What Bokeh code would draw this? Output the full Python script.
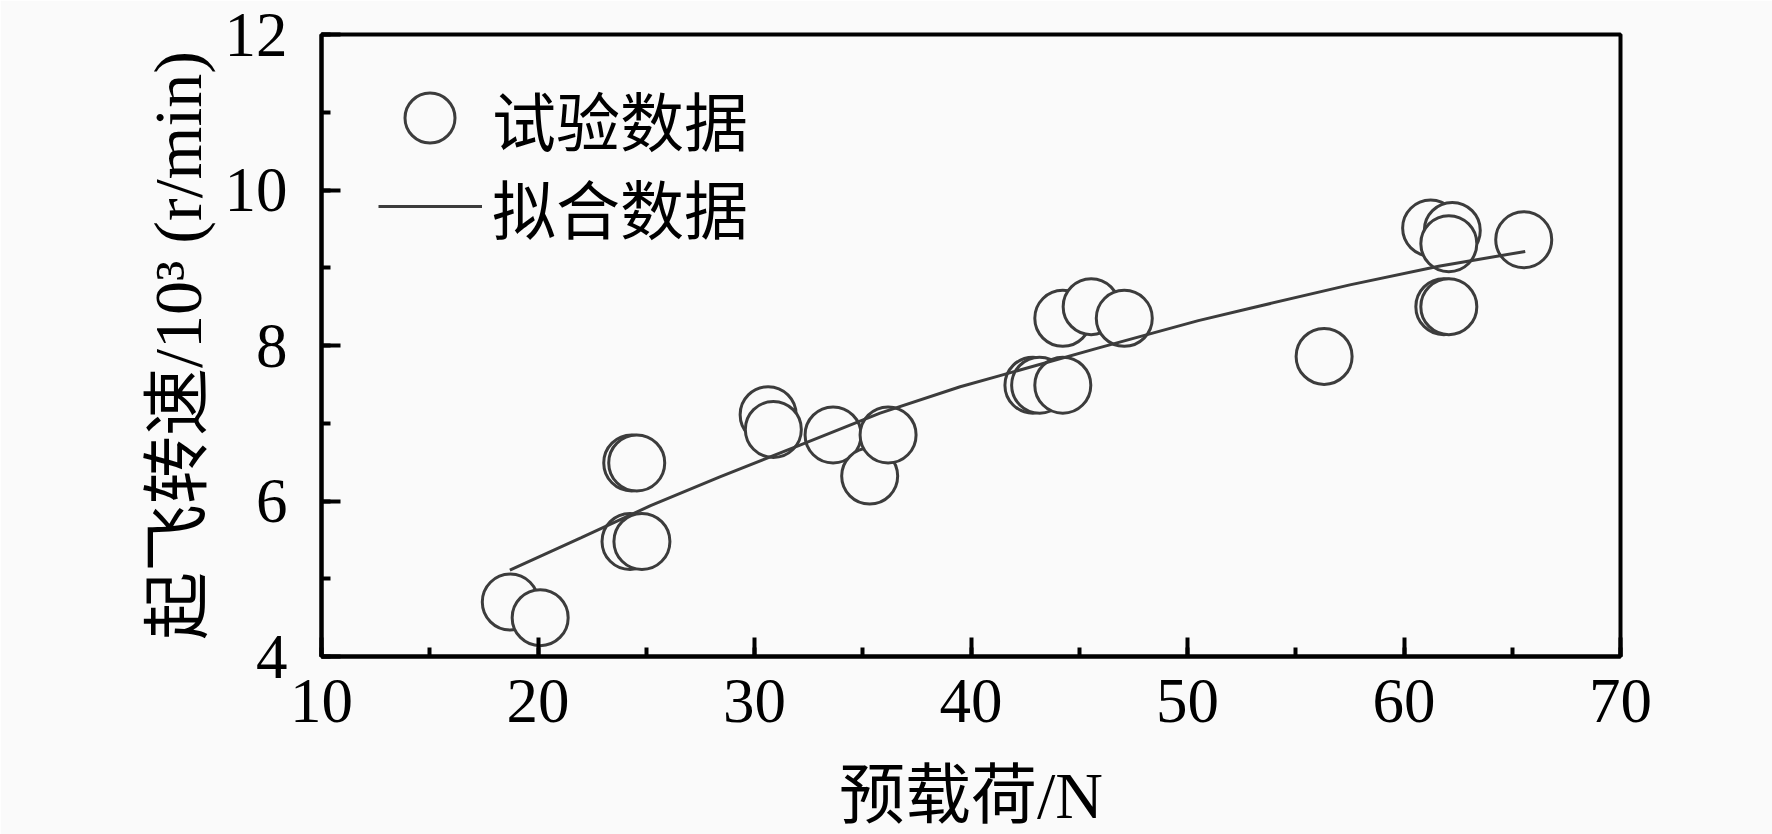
from bokeh.plotting import figure
from bokeh.models import SingleIntervalTicker, Legend, LegendItem, Range1d
from bokeh.embed import file_html
from bokeh.resources import INLINE

# ---- data ----
load_n = [18.72, 20.10, 24.33, 24.56, 24.25, 24.80, 30.63, 30.87, 33.63, 35.32,
          36.17, 42.86, 43.17, 44.24, 44.24, 45.55, 47.08, 56.31, 61.23, 62.23,
          62.07, 61.84, 62.07, 65.53]
speed_k = [4.70, 4.50, 6.49, 6.49, 5.48, 5.48, 7.11, 6.92, 6.85, 6.32,
           6.85, 7.49, 7.49, 7.49, 8.35, 8.50, 8.35, 7.86, 9.51, 9.48,
           9.31, 8.50, 8.50, 9.36]

fit_x = [18.7, 22.0, 25.2, 28.4, 32.1, 35.8, 39.5, 41.3, 45.9, 50.5, 52.9, 57.5, 61.6, 65.6]
fit_y = [5.11, 5.53, 5.94, 6.31, 6.72, 7.13, 7.47, 7.61, 7.97, 8.32, 8.48, 8.78, 9.02, 9.21]

x_label = "预载荷/N"
y_label = "起飞转速/10³ (r/min)"
legend_labels = ["试验数据", "拟合数据"]

BG = "#fafafa"
INK = "#3c3c3c"
SERIF = "'Liberation Serif', 'Noto Sans CJK SC'"

p = figure(width=1772, height=834, output_backend="svg", toolbar_location=None,
           x_range=Range1d(10, 70), y_range=Range1d(4, 12),
           min_border_left=321, min_border_right=152,
           min_border_top=34, min_border_bottom=177)
p.background_fill_color = BG
p.border_fill_color = BG
p.grid.visible = False
p.outline_line_color = "black"
p.outline_line_width = 4

pts = p.scatter(load_n, speed_k, size=56, marker="circle",
                line_color=INK, line_width=3, fill_color=BG, fill_alpha=1.0)
fit = p.line(fit_x, fit_y, line_color=INK, line_width=3)

p.xaxis.ticker = SingleIntervalTicker(interval=10, num_minor_ticks=2)
p.yaxis.ticker = SingleIntervalTicker(interval=2, num_minor_ticks=2)

for ax in (p.xaxis[0], p.yaxis[0]):
    ax.axis_line_width = 4
    ax.axis_line_color = "black"
    ax.major_tick_in = 19
    ax.major_tick_out = 0
    ax.minor_tick_in = 9
    ax.minor_tick_out = 0
    ax.major_tick_line_width = 4
    ax.minor_tick_line_width = 4
    ax.major_tick_line_color = "black"
    ax.minor_tick_line_color = "black"
    ax.major_label_text_font = "Liberation Serif"
    ax.major_label_text_font_size = "63px"
    ax.major_label_text_color = "black"
    ax.axis_label_text_font = SERIF
    ax.axis_label_text_font_style = "normal"
    ax.axis_label_text_color = "black"

p.xaxis.axis_label = x_label
p.yaxis.axis_label = y_label
p.xaxis.major_label_standoff = 23
p.yaxis.major_label_standoff = 34
p.xaxis.axis_label_text_font_size = "66px"
p.yaxis.axis_label_text_font_size = "68px"
p.xaxis.axis_label_standoff = 34
p.yaxis.axis_label_standoff = 6


def make_legend(item, loc, gw, gh, standoff):
    lg = Legend(items=[item], location=loc)
    lg.padding = 0
    lg.margin = 0
    lg.border_line_color = None
    lg.background_fill_alpha = 0
    lg.glyph_width = gw
    lg.glyph_height = gh
    lg.label_standoff = standoff
    lg.label_text_font = SERIF
    lg.label_text_font_size = "64px"
    lg.label_text_color = "black"
    lg.label_text_baseline = "middle"
    return lg


leg1 = make_legend(LegendItem(label=legend_labels[0], renderers=[pts]),
                   (46, 476), 125, 125, 0)
leg2 = make_legend(LegendItem(label=legend_labels[1], renderers=[fit]),
                   (57, 404), 104, 90, 10)
p.add_layout(leg1)
p.add_layout(leg2)

open("out.html", "w").write(file_html(p, INLINE))
